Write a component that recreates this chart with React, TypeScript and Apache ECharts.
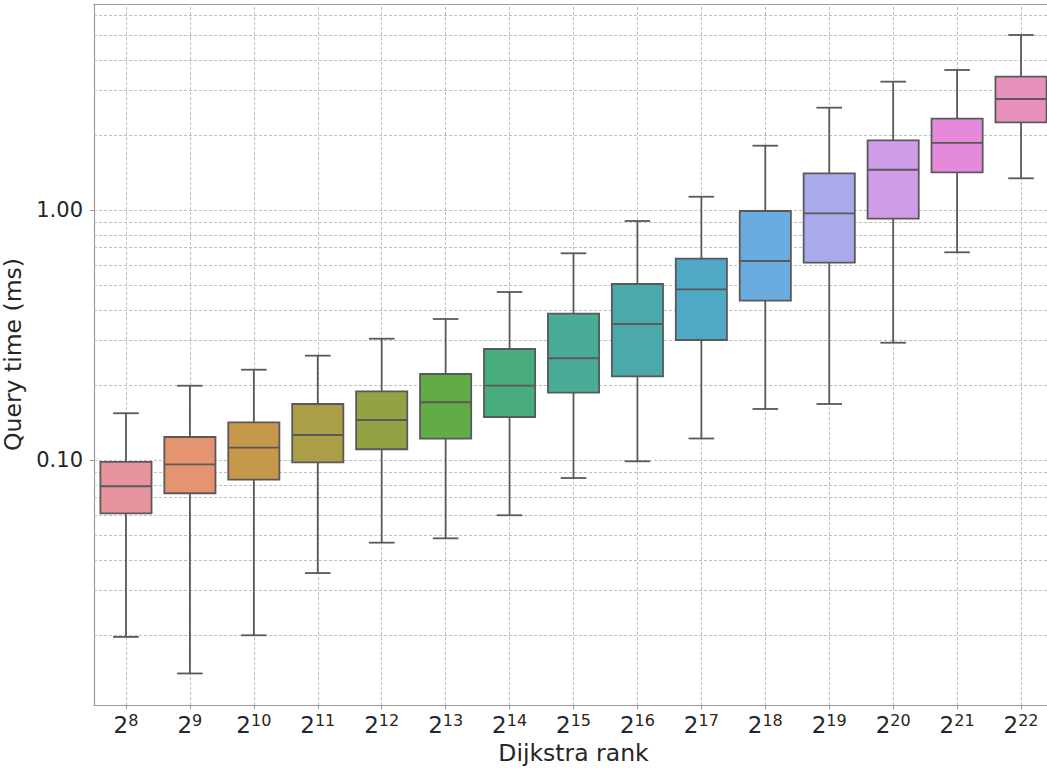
import React, { useEffect, useRef } from 'react';
import * as echarts from 'echarts';

// Dijkstra rank exponents (2^k)
const categories = ['8', '9', '10', '11', '12', '13', '14', '15', '16', '17', '18', '19', '20', '21', '22'];
// Query time (ms) box statistics
const whiskerLow = [0.0196, 0.0140, 0.0199, 0.0353, 0.0467, 0.0486, 0.0601, 0.0847, 0.0988, 0.1219, 0.1600, 0.1675, 0.2945, 0.6773, 1.339];
const quartile1 = [0.0612, 0.0736, 0.0834, 0.0979, 0.1104, 0.1217, 0.1486, 0.1859, 0.2162, 0.3020, 0.4337, 0.6155, 0.9231, 1.415, 2.243];
const medians = [0.0785, 0.0961, 0.1120, 0.1259, 0.1445, 0.1702, 0.1982, 0.2552, 0.3499, 0.4818, 0.6252, 0.9701, 1.449, 1.854, 2.780];
const quartile3 = [0.0982, 0.1236, 0.1415, 0.1675, 0.1883, 0.2208, 0.2780, 0.3847, 0.5058, 0.6384, 0.9908, 1.402, 1.900, 2.319, 3.414];
const whiskerHigh = [0.1538, 0.1982, 0.2297, 0.2614, 0.3056, 0.3664, 0.4699, 0.6711, 0.9037, 1.130, 1.808, 2.566, 3.261, 3.631, 5.012];
const boxColors = ['#E8949F', '#E4946F', '#C6984A', '#AA9E47', '#92A245', '#62AC48', '#48AC7E', '#4AAB98', '#4BA9AA', '#50A9C4', '#6AACE0', '#AAAAEA', '#CF9CE8', '#E58ADB', '#E891BE'];
const yTickValues = [0.1, 1];
const yMin = 0.01047;
const yMax = 6.668;

const FONT = 'DejaVu Sans';
const TEXT = '#262626';
const EDGE = '#595959';
const SPINE = '#9a9a9a';
const GRID = '#b8b8b8';

export default function App() {
  const ref = useRef<HTMLDivElement>(null);
  useEffect(() => {
    if (!ref.current) return;
    const chart = echarts.init(ref.current, null, { renderer: 'svg' });
    const lg = (v: number) => Math.log10(v);

    const gridValues: number[] = [];
    for (let e = -2; e <= 0; e++) {
      for (let m = 1; m <= 9; m++) {
        const v = m * Math.pow(10, e);
        if (v >= yMin && v <= yMax) gridValues.push(v);
      }
    }

    const data = categories.map((c, i) => [
      i,
      lg(whiskerLow[i]),
      lg(quartile1[i]),
      lg(medians[i]),
      lg(quartile3[i]),
      lg(whiskerHigh[i]),
    ]);

    const option: any = {
      animation: false,
      grid: { left: 94, top: 4, width: 959, height: 701, containLabel: false, outerBoundsMode: 'none' },
      xAxis: [
        {
          type: 'category',
          data: categories,
          boundaryGap: true,
          axisLine: { show: true, onZero: false, lineStyle: { color: SPINE, width: 1.2 } },
          axisTick: { show: true, alignWithLabel: true, length: 4, lineStyle: { color: SPINE } },
          splitLine: { show: false },
          axisLabel: {
            interval: 0,
            margin: 7,
            formatter: (v: string) => `{b|2}{s|${v}}`,
            rich: {
              b: { fontSize: 23, fontFamily: FONT, color: TEXT, lineHeight: 26 },
              s: { fontSize: 16, fontFamily: FONT, color: TEXT, lineHeight: 16, verticalAlign: 'top' },
            },
          },
          name: 'Dijkstra rank',
          nameLocation: 'middle',
          nameGap: 34,
          nameTextStyle: { fontSize: 23.5, fontFamily: FONT, color: TEXT },
        },
        {
          type: 'category',
          data: categories,
          position: 'top',
          axisLine: { show: true, onZero: false, lineStyle: { color: SPINE, width: 1.2 } },
          axisTick: { show: false },
          axisLabel: { show: false },
          splitLine: { show: false },
        },
      ],
      yAxis: {
        type: 'value',
        min: lg(yMin),
        max: lg(yMax),
        axisLine: { show: true, onZero: false, lineStyle: { color: SPINE, width: 1.2 } },
        axisTick: { show: true, length: 4, customValues: yTickValues.map(lg), lineStyle: { color: SPINE } },
        splitLine: { show: false },
        axisLabel: {
          customValues: yTickValues.map(lg),
          formatter: (v: number) => Math.pow(10, v).toFixed(2),
          fontSize: 21,
          fontFamily: FONT,
          color: TEXT,
          margin: 11,
        },
        name: 'Query time (ms)',
        nameLocation: 'middle',
        nameGap: 58,
        nameTextStyle: { fontSize: 23.5, fontFamily: FONT, color: TEXT },
      },
      series: [
        {
          type: 'line',
          data: [],
          z: 1,
          markLine: {
            silent: true,
            z: 1,
            symbol: ['none', 'none'],
            label: { show: false },
            lineStyle: { color: GRID, width: 0.9, type: [3, 2] },
            emphasis: { disabled: true },
            data: [
              ...gridValues.map((v) => ({ yAxis: lg(v) })),
              ...categories.map((c) => ({ xAxis: c })),
            ],
          },
        },
        {
          type: 'custom',
          z: 3,
          data,
          encode: { x: 0, y: [1, 2, 3, 4, 5] },
          renderItem: (params: any, api: any) => {
            const i = api.value(0);
            const lo = api.coord([i, api.value(1)]);
            const b1 = api.coord([i, api.value(2)]);
            const md = api.coord([i, api.value(3)]);
            const b3 = api.coord([i, api.value(4)]);
            const hi = api.coord([i, api.value(5)]);
            const band = api.size([1, 0])[0];
            const bw = band * 0.8;
            const cw = bw * 0.5;
            const cx = lo[0];
            const st = { stroke: EDGE, lineWidth: 1.8 };
            return {
              type: 'group',
              children: [
                { type: 'line', shape: { x1: cx, y1: hi[1], x2: cx, y2: b3[1] }, style: st },
                { type: 'line', shape: { x1: cx, y1: b1[1], x2: cx, y2: lo[1] }, style: st },
                { type: 'line', shape: { x1: cx - cw / 2, y1: hi[1], x2: cx + cw / 2, y2: hi[1] }, style: st },
                { type: 'line', shape: { x1: cx - cw / 2, y1: lo[1], x2: cx + cw / 2, y2: lo[1] }, style: st },
                {
                  type: 'rect',
                  shape: { x: cx - bw / 2, y: b3[1], width: bw, height: b1[1] - b3[1] },
                  style: { fill: boxColors[params.dataIndex], stroke: EDGE, lineWidth: 1.8 },
                },
                { type: 'line', shape: { x1: cx - bw / 2, y1: md[1], x2: cx + bw / 2, y2: md[1] }, style: st },
              ],
            };
          },
        },
      ],
    };
    chart.setOption(option);
    return () => chart.dispose();
  }, []);
  return <div ref={ref} style={{ position: 'absolute', left: 0, top: 0, width: 1047, height: 768 }} />;
}
